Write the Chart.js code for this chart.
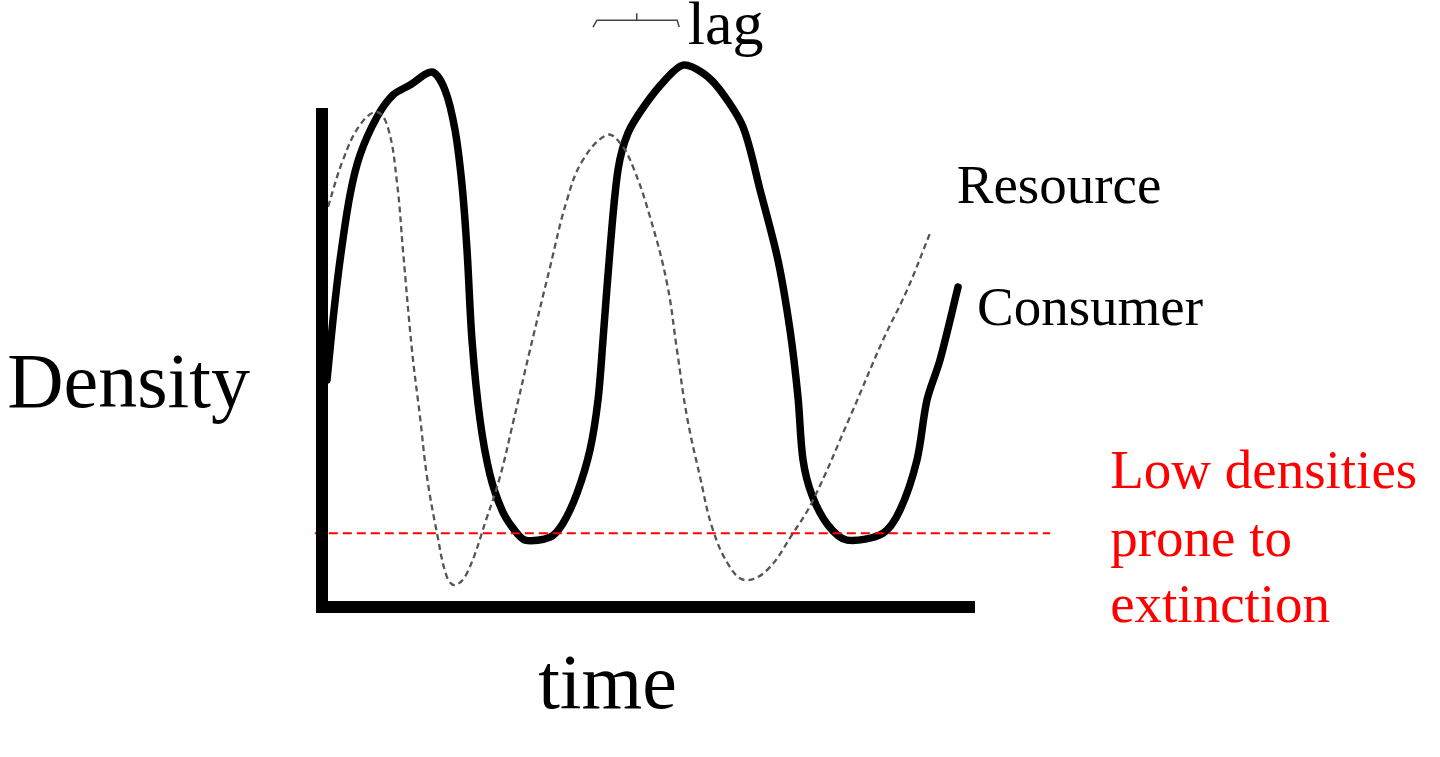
<!DOCTYPE html>
<html>
<head>
<meta charset="utf-8">
<script src="https://cdn.jsdelivr.net/npm/chart.js@4.4.1/dist/chart.umd.min.js"></script>
<style>
  html, body { margin: 0; padding: 0; background: #fff; }
  #wrap { width: 1440px; height: 757px; position: relative; }
</style>
</head>
<body>
<div id="wrap"><canvas id="myChart"></canvas></div>
<script>
// Consumer density (thick black line)
var consumerTime = [0.77, 1.68, 2.76, 4.29, 5.82, 8.42, 10.87, 13.48, 16.85, 18.84, 20.37, 21.44, 22.21, 22.97, 24.2, 25.73, 27.57, 29.25, 31.09, 34.92, 36.91, 39.05, 41.04, 42.27, 43.03, 44.1, 45.33, 46.86, 49.46, 52.53, 55.28, 58.35, 60.95, 64.47, 67.08, 69.83, 71.67, 72.89, 73.66, 75.04, 77.49, 80.4, 85.91, 88.51, 91.12, 92.65, 94.64, 97.4];
var consumerDensity = [45.5, 57.5, 69.5, 82.6, 90.6, 98.2, 102.6, 104.6, 107.2, 103.6, 95.6, 84.6, 71.5, 53.5, 37.5, 26.5, 19.4, 15.8, 13.4, 14.0, 16.8, 22.8, 31.5, 41.5, 53.5, 71.5, 87.6, 95.0, 100.6, 105.6, 108.6, 107.0, 103.6, 96.2, 83.6, 69.5, 55.5, 42.1, 29.5, 22.4, 16.4, 13.4, 14.8, 19.4, 29.5, 41.5, 49.5, 64.1];

// Resource density (thin dashed grey line)
var resourceTime = [0.92, 3.22, 5.82, 8.42, 10.11, 11.49, 12.4, 13.78, 15.01, 16.08, 17.61, 19.14, 20.37, 22.21, 25.27, 27.26, 29.25, 31.85, 34.92, 37.52, 39.97, 43.64, 45.64, 47.63, 50.23, 52.83, 54.36, 55.9, 57.89, 59.88, 62.48, 64.78, 68.15, 72.13, 75.19, 80.86, 85.91, 89.59, 93.11];
var resourceDensity = [80.2, 89.6, 96.6, 99.2, 96.0, 85.0, 71.5, 51.5, 38.1, 26.1, 14.8, 6.0, 4.4, 6.8, 18.0, 26.1, 36.9, 51.5, 68.1, 81.6, 89.6, 94.6, 93.0, 88.2, 78.2, 64.9, 51.5, 38.1, 26.1, 15.4, 8.0, 5.4, 7.4, 14.8, 21.4, 38.1, 53.5, 63.5, 74.9];

// Extinction threshold
var thresholdLevel = 14.8;
var thresholdRange = [-1.1, 111.5];

// Axes (time, density)
var axisTime = [0, 0, 100];
var axisDensity = [100, 0, 0];

// "lag" bracket
var lagTime = [41.5, 42.1, 54.4, 54.7, null, 48.2, 48.2];
var lagDensity = [116.2, 117.6, 117.6, 116.2, null, 117.6, 119.0];

// Text labels: [text, time, density, size, colour]
var labels = [
  ['Density', -48.2, 40.1, 78, '#000'],
  ['time', 33.1, -20.2, 78, '#000'],
  ['lag', 56.0, 112.8, 62, '#000'],
  ['Resource', 97.2, 81.0, 55, '#000'],
  ['Consumer', 100.3, 56.5, 55, '#000'],
  ['Low densities', 120.7, 23.8, 55, '#ff0000'],
  ['prone to', 120.7, 10.2, 55, '#ff0000'],
  ['extinction', 120.7, -3.0, 55, '#ff0000']
];

function toPoints(xs, ys) {
  return xs.map(function (x, i) {
    return { x: x === null ? NaN : x, y: ys[i] };
  });
}

var labelPlugin = {
  id: 'labelPlugin',
  afterDraw: function (chart) {
    var ctx = chart.ctx;
    var xs = chart.scales.x, ys = chart.scales.y;
    ctx.save();
    ctx.textAlign = 'left';
    ctx.textBaseline = 'alphabetic';
    labels.forEach(function (l) {
      ctx.font = l[3] + 'px "Liberation Serif", "Times New Roman", serif';
      ctx.fillStyle = l[4];
      ctx.fillText(l[0], xs.getPixelForValue(l[1]), ys.getPixelForValue(l[2]));
    });
    ctx.restore();
  }
};

var data = {
  datasets: [
    {
      label: 'Axes',
      data: toPoints(axisTime, axisDensity),
      borderColor: '#000',
      borderWidth: 12,
      borderJoinStyle: 'miter',
      borderCapStyle: 'butt',
      pointRadius: 0,
      tension: 0,
      clip: false
    },
    {
      label: 'Threshold',
      data: toPoints(thresholdRange, [thresholdLevel, thresholdLevel]),
      borderColor: '#ff0000',
      borderWidth: 2,
      borderDash: [9, 5],
      pointRadius: 0,
      clip: false
    },
    {
      label: 'Resource',
      data: toPoints(resourceTime, resourceDensity),
      borderColor: '#555',
      borderWidth: 2.3,
      borderDash: [6, 4],
      pointRadius: 0,
      tension: 0.4,
      clip: false
    },
    {
      label: 'Consumer',
      data: toPoints(consumerTime, consumerDensity),
      borderColor: '#000',
      borderWidth: 7.5,
      borderJoinStyle: 'round',
      borderCapStyle: 'round',
      pointRadius: 0,
      tension: 0.3,
      clip: false
    },
    {
      label: 'Lag',
      data: toPoints(lagTime, lagDensity),
      borderColor: '#444',
      borderWidth: 1.5,
      pointRadius: 0,
      spanGaps: false,
      clip: false
    }
  ]
};

var config = {
  type: 'line',
  data: data,
  options: {
    responsive: true,
    maintainAspectRatio: false,
    animation: false,
    layout: {
      padding: { left: 322, right: 465, top: 108, bottom: 150 }
    },
    plugins: {
      legend: { display: false },
      tooltip: { enabled: false }
    },
    scales: {
      x: { type: 'linear', min: 0, max: 100, display: false },
      y: { type: 'linear', min: 0, max: 100, display: false }
    }
  },
  plugins: [labelPlugin]
};

var myChart = new Chart(document.getElementById('myChart').getContext('2d'), config);
</script>
</body>
</html>
